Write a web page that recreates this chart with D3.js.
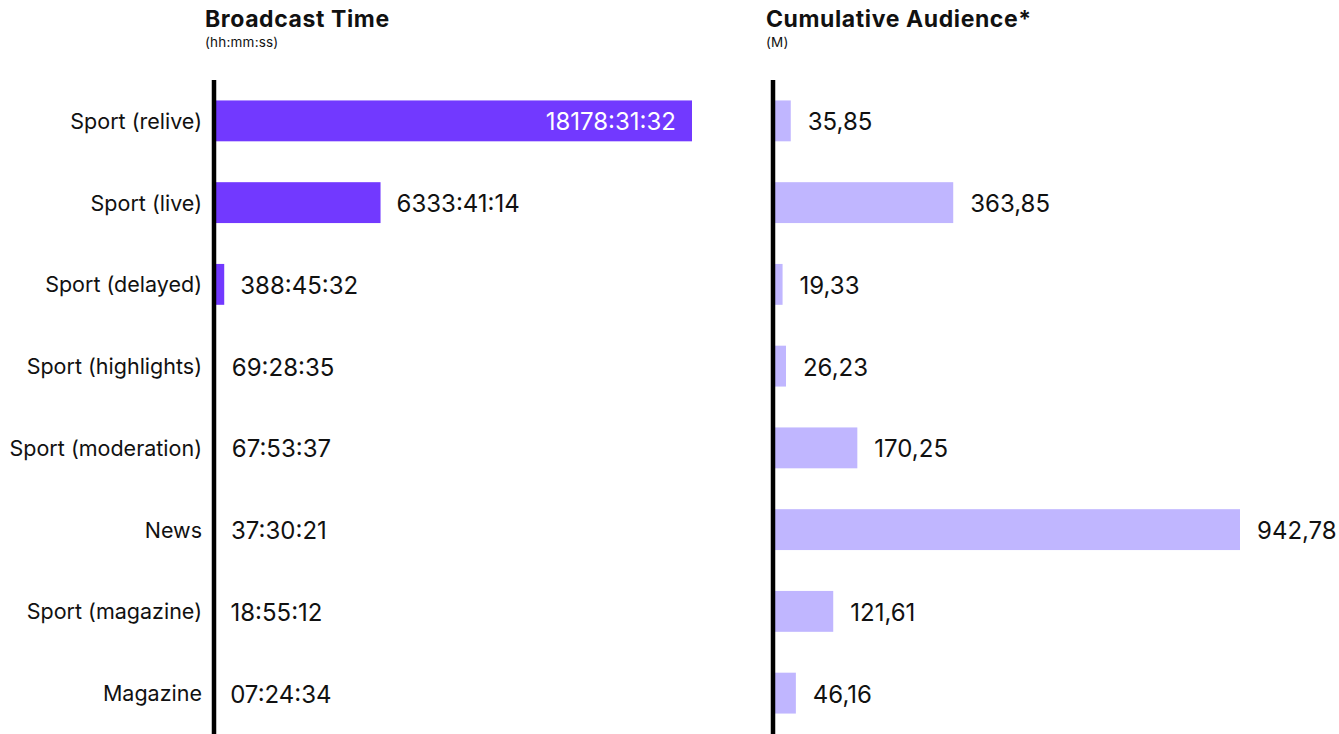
<!DOCTYPE html>
<html>
<head>
<meta charset="utf-8">
<script src="https://cdn.jsdelivr.net/npm/d3@7"></script>
<style>
  body { margin: 0; background: #fff; }
  svg { font-family: Inter, "Noto Sans", sans-serif; }
</style>
</head>
<body>
<div id="container"></div>
<script>
// data
var categories = ["Sport (relive)", "Sport (live)", "Sport (delayed)", "Sport (highlights)",
                  "Sport (moderation)", "News", "Sport (magazine)", "Magazine"];
var broadcastTime = ["18178:31:32", "6333:41:14", "388:45:32", "69:28:35",
                     "67:53:37", "37:30:21", "18:55:12", "07:24:34"];
var audience = [35.85, 363.85, 19.33, 26.23, 170.25, 942.78, 121.61, 46.16];

// sizes
var canvasX = 1339;
var canvasY = 734;

// turn hh:mm:ss into hours
function toHours(s) {
    var p = s.split(":").map(Number);
    return p[0] + p[1] / 60 + p[2] / 3600;
}
var hours = broadcastTime.map(toHours);

var svg = d3.select("#container")
            .append("svg")
            .attr("width", canvasX)
            .attr("height", canvasY);

var yScale = d3.scaleBand()
               .domain(categories)
               .range([80, 734])
               .paddingInner(0.5)
               .paddingOuter(0.25);

var xLeft = d3.scaleLinear()
              .domain([0, d3.max(hours)])
              .range([214, 692]);

var xRight = d3.scaleLinear()
               .domain([0, d3.max(audience)])
               .range([773, 1240]);

// titles
function title(x, main, sub) {
    svg.append("text")
       .attr("x", x)
       .attr("y", 27)
       .attr("font-size", 23)
       .attr("font-weight", 700)
       .attr("letter-spacing", 0.6)
       .attr("fill", "#111")
       .text(main);
    svg.append("text")
       .attr("x", x)
       .attr("y", 47)
       .attr("font-size", 13.5)
       .attr("letter-spacing", 0.2)
       .attr("fill", "#111")
       .text(sub);
}
title(205, "Broadcast Time", "(hh:mm:ss)");
title(766, "Cumulative Audience*", "(M)");

// left bars
svg.append("g")
   .selectAll("rect")
   .data(hours)
   .enter()
   .append("rect")
   .attr("x", xLeft(0))
   .attr("y", function(d, i) { return yScale(categories[i]); })
   .attr("width", function(d) { return xLeft(d) - xLeft(0); })
   .attr("height", yScale.bandwidth())
   .attr("fill", "#7239ff");

svg.append("g")
   .selectAll("text")
   .data(hours)
   .enter()
   .append("text")
   .attr("y", function(d, i) { return yScale(categories[i]) + yScale.bandwidth() / 2; })
   .attr("dy", "0.4em")
   .attr("font-size", 24)
   .each(function(d, i) {
       var inside = xLeft(d) - xLeft(0) > 300;
       d3.select(this)
         .attr("x", inside ? xLeft(d) - 16 : xLeft(d) + 16)
         .attr("text-anchor", inside ? "end" : "start")
         .attr("fill", inside ? "#fff" : "#111")
         .text(broadcastTime[i]);
   });

// right bars
svg.append("g")
   .selectAll("rect")
   .data(audience)
   .enter()
   .append("rect")
   .attr("x", xRight(0))
   .attr("y", function(d, i) { return yScale(categories[i]); })
   .attr("width", function(d) { return xRight(d) - xRight(0); })
   .attr("height", yScale.bandwidth())
   .attr("fill", "#c0b6ff");

svg.append("g")
   .selectAll("text")
   .data(audience)
   .enter()
   .append("text")
   .attr("x", function(d) { return xRight(d) + 17; })
   .attr("y", function(d, i) { return yScale(categories[i]) + yScale.bandwidth() / 2; })
   .attr("dy", "0.4em")
   .attr("font-size", 24)
   .attr("fill", "#111")
   .text(function(d) { return d.toFixed(2).replace(".", ","); });

// category axis on the left
var yAxis = d3.axisLeft(yScale).tickSize(0).tickPadding(12);
var gAxis = svg.append("g")
               .attr("transform", "translate(" + xLeft(0) + ",0)")
               .call(yAxis);
gAxis.select(".domain").remove();
gAxis.selectAll("text")
     .attr("font-size", 21.5)
     .attr("font-family", "Inter, 'Noto Sans', sans-serif")
     .attr("dy", "0.37em")
     .attr("fill", "#111");

// the two thick baselines
[xLeft(0), xRight(0)].forEach(function(x) {
    svg.append("line")
       .attr("x1", x)
       .attr("x2", x)
       .attr("y1", 80)
       .attr("y2", 734)
       .attr("stroke", "#000")
       .attr("stroke-width", 4.5);
});
</script>
</body>
</html>
